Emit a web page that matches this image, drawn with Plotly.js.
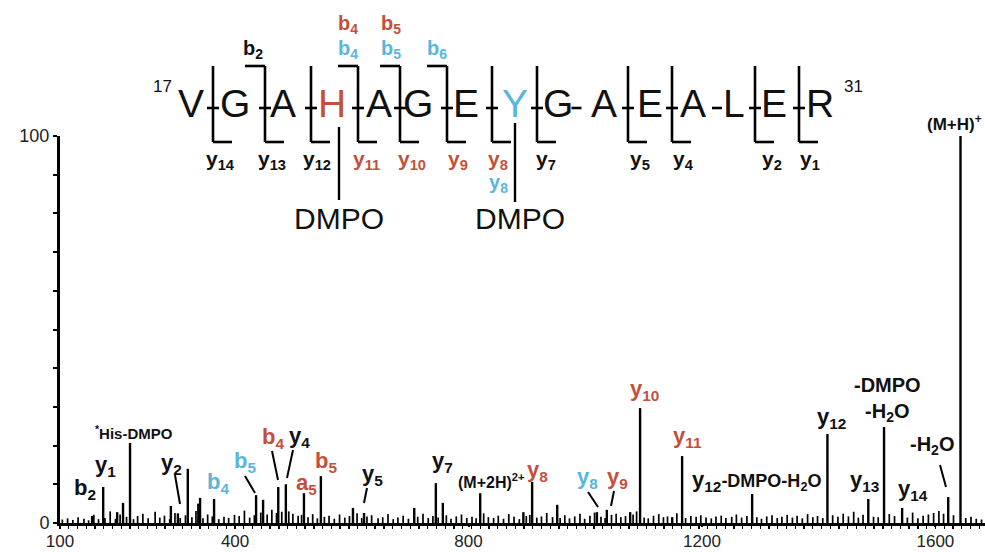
<!DOCTYPE html>
<html>
<head>
<meta charset="utf-8">
<script src="https://cdn.plot.ly/plotly-3.0.1.min.js"></script>
<style>html,body{margin:0;padding:0;background:#fff;}#chart{width:985px;height:552px;}</style>
</head>
<body>
<div id="chart"></div>
<script>
// ---- Data ----
const peakMz = [155,174,198,208,220,290,302,319,337,340,364,436,448,474,487,518,547,602,621,707,744,756,820,894,909,952,1020,1037,1077,1094,1149,1166,1286,1415,1485,1512,1543,1622,1643];
const peakInt = [1.8,9.3,2.8,5.2,20.7,4.4,2.5,14,5,6.5,6.2,7.2,6,9.3,10,7.7,12.1,3.9,2.6,3.9,10.3,5.2,7.7,2.8,10.6,4.7,2.8,3.4,2.8,29.7,1.5,17.3,7.5,23,6.2,24.8,3.9,6.7,100];

const noiseMz = [
104,113,122,131,141,149,158,166,177,186,
195,203,214,226,233,242,251,263,271,279,
288,297,306,315,326,333,345,353,361,372,
381,389,399,407,416,425,433,444,455,463,
471,480,492,499,508,514,525,533,541,553,
561,570,579,588,596,609,617,626,634,645,
653,662,671,679,688,697,713,722,731,739,
748,762,770,779,788,797,806,813,826,834,
843,851,860,869,878,887,899,905,917,925,
934,944,957,965,973,982,991,999,1008,1016,
1027,1034,1045,1053,1061,1069,1082,1088,1101,1108,
1117,1126,1134,1141,1157,1172,1181,1190,1198,1207,
1216,1224,1233,1241,1251,1259,1268,1277,1294,1302,
1311,1320,1329,1337,1346,1355,1363,1372,1381,1390,
1398,1407,1424,1433,1442,1451,1460,1468,1476,1494,
1502,1521,1530,1552,1561,1570,1579,1588,1597,1606,
1614,1631,1652,1661,1670,1679];
const noiseInt = [
0.9,1.2,0.8,1.5,1.1,0.7,2.1,1.0,1.3,3.0,
1.1,2.2,1.6,1.0,1.8,2.4,1.2,2.9,1.4,1.9,
1.0,2.6,1.3,2.0,1.5,3.1,1.2,2.2,1.7,1.0,
1.6,1.3,2.1,1.8,3.2,1.4,2.0,2.7,2.2,3.4,
2.6,2.9,3.0,2.4,1.9,2.1,1.5,2.3,1.2,1.6,
1.9,1.1,2.2,1.4,1.8,2.5,1.3,1.7,2.0,1.2,
1.5,2.3,1.0,1.4,1.9,1.1,1.6,2.4,1.3,1.8,
1.4,2.0,1.1,1.7,2.2,1.3,1.6,1.2,2.5,1.5,
1.3,1.9,1.1,2.3,1.6,1.0,1.8,2.1,1.4,1.7,
2.6,1.5,1.3,2.0,1.2,1.7,2.4,1.1,1.9,2.7,
1.6,1.3,2.1,2.4,1.5,1.8,2.2,3.0,1.4,1.2,
1.9,2.3,1.5,1.7,2.5,1.3,1.8,1.6,2.0,1.4,
1.2,1.7,1.9,1.3,1.6,2.2,1.4,1.8,1.5,1.1,
1.7,2.0,1.3,1.6,2.1,1.4,1.9,1.2,2.3,1.5,
1.8,1.3,2.0,1.6,2.4,1.7,2.9,1.4,2.1,1.6,
1.5,2.3,1.8,1.4,2.7,1.2,1.9,2.2,2.6,3.1,
2.4,2.0,1.3,1.6,1.1,0.9];

const xTickVals = [100,400,800,1200,1600];
const yTickVals = [0,10,20,30,40,50,60,70,80,90,100];
const yTickText = ['0','','','','','','','','','','100'];

const sequence = ['V','G','A','H','A','G','E','Y','G','A','E','A','L','E','R'];

// ---- Styling ----
const FONT = 'Liberation Sans, Arial, Helvetica, sans-serif';
const RED = '#c4503c';
const CYAN = '#5ab6dc';
const BLK = '#111111';

function sticks(mz, inten) {
  const x = [], y = [];
  for (let i = 0; i < mz.length; i++) {
    x.push(mz[i], mz[i], null);
    y.push(0, inten[i], null);
  }
  return {x, y};
}
const pk = sticks(peakMz, peakInt);
const nz = sticks(noiseMz, noiseInt);

// plot-area geometry (pixels) for placing labels in paper coordinates
const X0 = 60, W = 925, Y0 = 523, H = 387;
const PX = p => (p - X0) / W;
const PY = p => (Y0 - p) / H;

const annotations = [];
const shapes = [];
function lab(text, px, py, size, color, extra) {
  annotations.push(Object.assign({
    text: text, xref: 'paper', yref: 'paper', x: PX(px), y: PY(py),
    xanchor: 'center', yanchor: 'middle', showarrow: false,
    font: {family: FONT, size: size, color: color || BLK}
  }, extra || {}));
}
function seg(x1, y1, x2, y2, w) {
  shapes.push({type: 'line', xref: 'paper', yref: 'paper',
    x0: PX(x1), y0: PY(y1), x1: PX(x2), y1: PY(y2),
    line: {color: '#000', width: w || 2}});
}

// ---- Peptide sequence header ----
const letterX = [191,235,282.5,331.5,378.5,418,466,514.5,558,604,650,693,734,773.5,820];
const letterCol = sequence.map((s, i) => i === 3 ? RED : (i === 7 ? CYAN : BLK));
sequence.forEach((s, i) => lab(s, letterX[i], 103, 39, letterCol[i]));
lab('17', 162, 87, 17);
lab('31', 853, 87, 17);

const siteX = [213,265,311,358,400,447,492,537,628,672,755,799];
siteX.forEach(x => {
  seg(x, 66, x, 142, 2.6);          // cleavage vertical
  seg(x - 6, 108, x + 6, 108, 2.6);  // peptide bond hyphen
  seg(x, 142, x + 19, 142, 2.6);    // y-ion hook
});
[576.5, 717].forEach(x => seg(x - 5, 108, x + 5, 108, 2.6));
[265, 358, 400, 447].forEach(x => seg(x - 20, 66, x, 66, 2.6)); // b-ion hooks

// b labels above
lab('<b>b<sub>2</sub></b>', 253, 49, 20, BLK);
lab('<b>b<sub>4</sub></b>', 348, 24, 20, RED);
lab('<b>b<sub>4</sub></b>', 348, 49, 20, CYAN);
lab('<b>b<sub>5</sub></b>', 391, 24, 20, RED);
lab('<b>b<sub>5</sub></b>', 391, 49, 20, CYAN);
lab('<b>b<sub>6</sub></b>', 437, 49, 20, CYAN);

// y labels below
const yLab = [['14',220,BLK],['13',272,BLK],['12',317,BLK],['11',366,RED],['10',412,RED],['9',458,RED],['8',498,RED],['7',546,BLK],['5',640,BLK],['4',683,BLK],['2',772,BLK],['1',810,BLK]];
yLab.forEach(d => lab('<b>y<sub>' + d[0] + '</sub></b>', d[1], 160, 21, d[2]));
lab('<b>y<sub>8</sub></b>', 498, 183, 20, CYAN);

// DMPO modifications
seg(339, 127, 339, 200, 2.4);
seg(515, 123, 515, 202, 2.4);
lab('DMPO', 339, 218, 30, BLK);
lab('DMPO', 520, 218, 30, BLK);

// ---- Peak labels in the spectrum ----
lab('<b>b<sub>2</sub></b>', 85, 489, 22, BLK);
lab('<b>y<sub>1</sub></b>', 105, 466, 22, BLK);
lab('<b><sup>*</sup>His-DMPO</b>', 134, 432, 15, BLK);
lab('<b>y<sub>2</sub></b>', 171, 464, 22, BLK);
lab('<b>b<sub>4</sub></b>', 218, 483, 22, CYAN);
lab('<b>b<sub>5</sub></b>', 245, 462, 22, CYAN);
lab('<b>b<sub>4</sub></b>', 273, 438, 22, RED);
lab('<b>y<sub>4</sub></b>', 299, 437, 22, BLK);
lab('<b>a<sub>5</sub></b>', 306, 484, 22, RED);
lab('<b>b<sub>5</sub></b>', 326, 462, 22, RED);
lab('<b>y<sub>5</sub></b>', 372, 475, 22, BLK);
lab('<b>y<sub>7</sub></b>', 442, 462, 22, BLK);
lab('<b>(M+2H)<sup>2+</sup></b>', 491, 481, 16, BLK);
lab('<b>y<sub>8</sub></b>', 537, 471, 22, RED);
lab('<b>y<sub>8</sub></b>', 587, 478, 22, CYAN);
lab('<b>y<sub>9</sub></b>', 617, 478, 22, RED);
lab('<b>y<sub>10</sub></b>', 644, 390, 22, RED);
lab('<b>y<sub>11</sub></b>', 687, 437, 22, RED);
lab('<b><span style="font-size:22px">y<sub>12</sub></span>-DMPO-H<sub>2</sub>O</b>', 756, 481, 18, BLK);
lab('<b>y<sub>12</sub></b>', 831, 418, 22, BLK);
lab('<b>-DMPO<br>-H<sub>2</sub>O</b>', 887, 399, 20, BLK);
lab('<b>y<sub>13</sub></b>', 864, 481, 22, BLK);
lab('<b>y<sub>14</sub></b>', 913, 490, 22, BLK);
lab('<b>-H<sub>2</sub>O</b>', 932, 445, 20, BLK);
lab('<b>(M+H)<sup>+</sup></b>', 925, 123, 17, BLK, {xanchor: 'left'});

// pointer lines
seg(175, 475, 180, 504, 2);
seg(245, 476, 255, 493, 2);
seg(272, 451, 278, 480, 2);
seg(293, 450, 287, 478, 2);
seg(367, 488, 364, 503, 2);
seg(588, 492, 598, 507, 2);
seg(614, 491, 611, 506, 2);
seg(940, 465, 946, 487, 2);

const traces = [
  {type: 'scatter', mode: 'lines', x: nz.x, y: nz.y, line: {color: '#000', width: 1.7}, hoverinfo: 'skip'},
  {type: 'scatter', mode: 'lines', x: pk.x, y: pk.y, line: {color: '#000', width: 2.4}, hoverinfo: 'skip'}
];

const layout = {
  width: 985, height: 552,
  margin: {l: 60, r: 0, t: 136, b: 29, pad: 0},
  paper_bgcolor: '#fff', plot_bgcolor: '#fff',
  showlegend: false,
  font: {family: FONT, color: '#222'},
  xaxis: {
    range: [100, 1685], showline: true, linewidth: 3, linecolor: '#000',
    showgrid: false, zeroline: false,
    tickmode: 'array', tickvals: xTickVals, ticks: 'outside', ticklen: 1, tickwidth: 2, tickcolor: '#000',
    minor: {tickmode: 'linear', tick0: 100, dtick: 15, ticks: 'outside', ticklen: 2.5, tickwidth: 1.3, tickcolor: '#000'},
    tickfont: {family: FONT, size: 17, color: '#222'}
  },
  yaxis: {
    range: [0, 100], showline: true, linewidth: 3, linecolor: '#000',
    showgrid: false, zeroline: false,
    tickmode: 'array', tickvals: yTickVals, ticktext: yTickText,
    ticks: 'outside', ticklen: 4, tickwidth: 2, tickcolor: '#000',
    tickfont: {family: FONT, size: 18, color: '#222'}
  },
  annotations: annotations,
  shapes: shapes
};

Plotly.newPlot('chart', traces, layout, {staticPlot: true, displayModeBar: false});
</script>
</body>
</html>
